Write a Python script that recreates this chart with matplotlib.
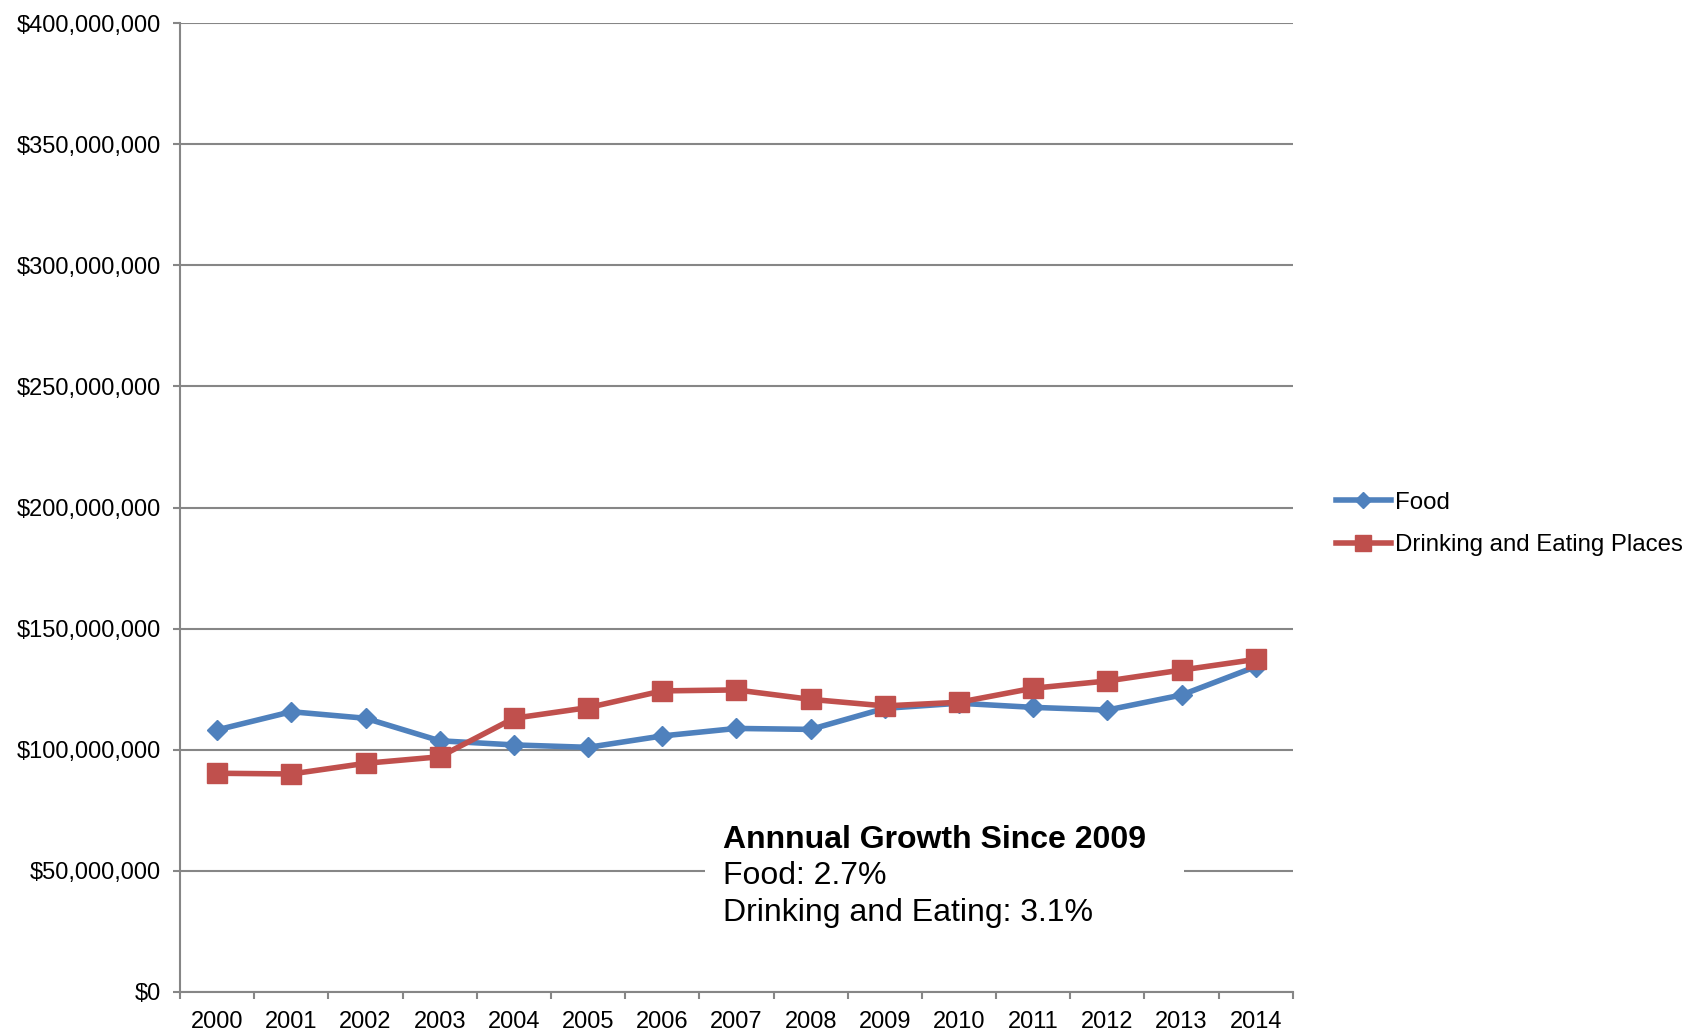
import numpy as np
import matplotlib
matplotlib.use("Agg")
import matplotlib.pyplot as plt
from matplotlib.ticker import FuncFormatter, MultipleLocator
from matplotlib.patches import Rectangle

plt.rcParams['font.family'] = ['Liberation Sans', 'DejaVu Sans']

years = [str(y) for y in range(2000, 2015)]
food = [108.2, 115.7, 113.0, 103.7, 102.0, 101.0, 105.7, 108.8, 108.4,
        117.1, 119.2, 117.5, 116.4, 122.6, 134.3]
drinking = [90.3, 90.0, 94.4, 97.1, 113.0, 117.4, 124.3, 124.7, 120.8,
            118.1, 119.6, 125.4, 128.4, 132.9, 137.3]
food = np.array(food) * 1e6
drinking = np.array(drinking) * 1e6

blue = '#4F81BD'
red = '#C0504D'
axis_gray = '#868686'

fig = plt.figure(figsize=(16.86, 10.33), dpi=100)
ax = fig.add_axes([0.1068, 0.0397, 0.66, 0.938])

x = np.arange(len(years))
ax.plot(x, food, color=blue, lw=4, marker='D', ms=10.5, mec=blue, mfc=blue,
        label='Food', zorder=4)
ax.plot(x, drinking, color=red, lw=4, marker='s', ms=14.5, mec=red, mfc=red,
        label='Drinking and Eating Places', zorder=5)

ax.set_xlim(-0.5, len(years) - 0.5)
ax.set_ylim(0, 400e6)
ax.yaxis.set_major_locator(MultipleLocator(50e6))
ax.yaxis.set_major_formatter(FuncFormatter(lambda v, p: '${:,.0f}'.format(v)))
ax.set_xticks(x)
ax.set_xticklabels(years)
ax.set_xticks(np.arange(-0.5, len(years)), minor=True)

ax.grid(axis='y', color=axis_gray, lw=1.5, zorder=1)
ax.set_axisbelow(True)
for side in ['top', 'right']:
    ax.spines[side].set_visible(False)
for side in ['left', 'bottom']:
    ax.spines[side].set_color(axis_gray)
    ax.spines[side].set_linewidth(1.5)

ax.tick_params(axis='y', length=5, width=1.5, color=axis_gray, pad=9,
               labelsize=17)
ax.tick_params(axis='x', which='major', length=0, pad=14, labelsize=17)
ax.tick_params(axis='x', which='minor', length=5, width=1.5, color=axis_gray)

# white panel behind the growth note
ax.add_patch(Rectangle((0.472, 0.065), 0.43, 0.11, transform=ax.transAxes,
                       facecolor='white', edgecolor='none', zorder=2))
ax.text(0.488, 0.157, 'Annnual Growth Since 2009', transform=ax.transAxes,
        fontsize=23, fontweight='bold', va='center', ha='left', zorder=3)
ax.text(0.488, 0.1192, 'Food: 2.7%', transform=ax.transAxes,
        fontsize=23, va='center', ha='left', zorder=3)
ax.text(0.488, 0.0812, 'Drinking and Eating: 3.1%', transform=ax.transAxes,
        fontsize=23, va='center', ha='left', zorder=3)

leg = fig.legend(loc='center left', bbox_to_anchor=(0.7865, 0.493),
                 frameon=False, fontsize=17.3, handlelength=2.3,
                 handletextpad=0.15, labelspacing=0.85, borderaxespad=0)
for h in leg.legend_handles:
    h.set_markersize(h.get_markersize() * 0.75)

fig.savefig('out.png', dpi=100)
